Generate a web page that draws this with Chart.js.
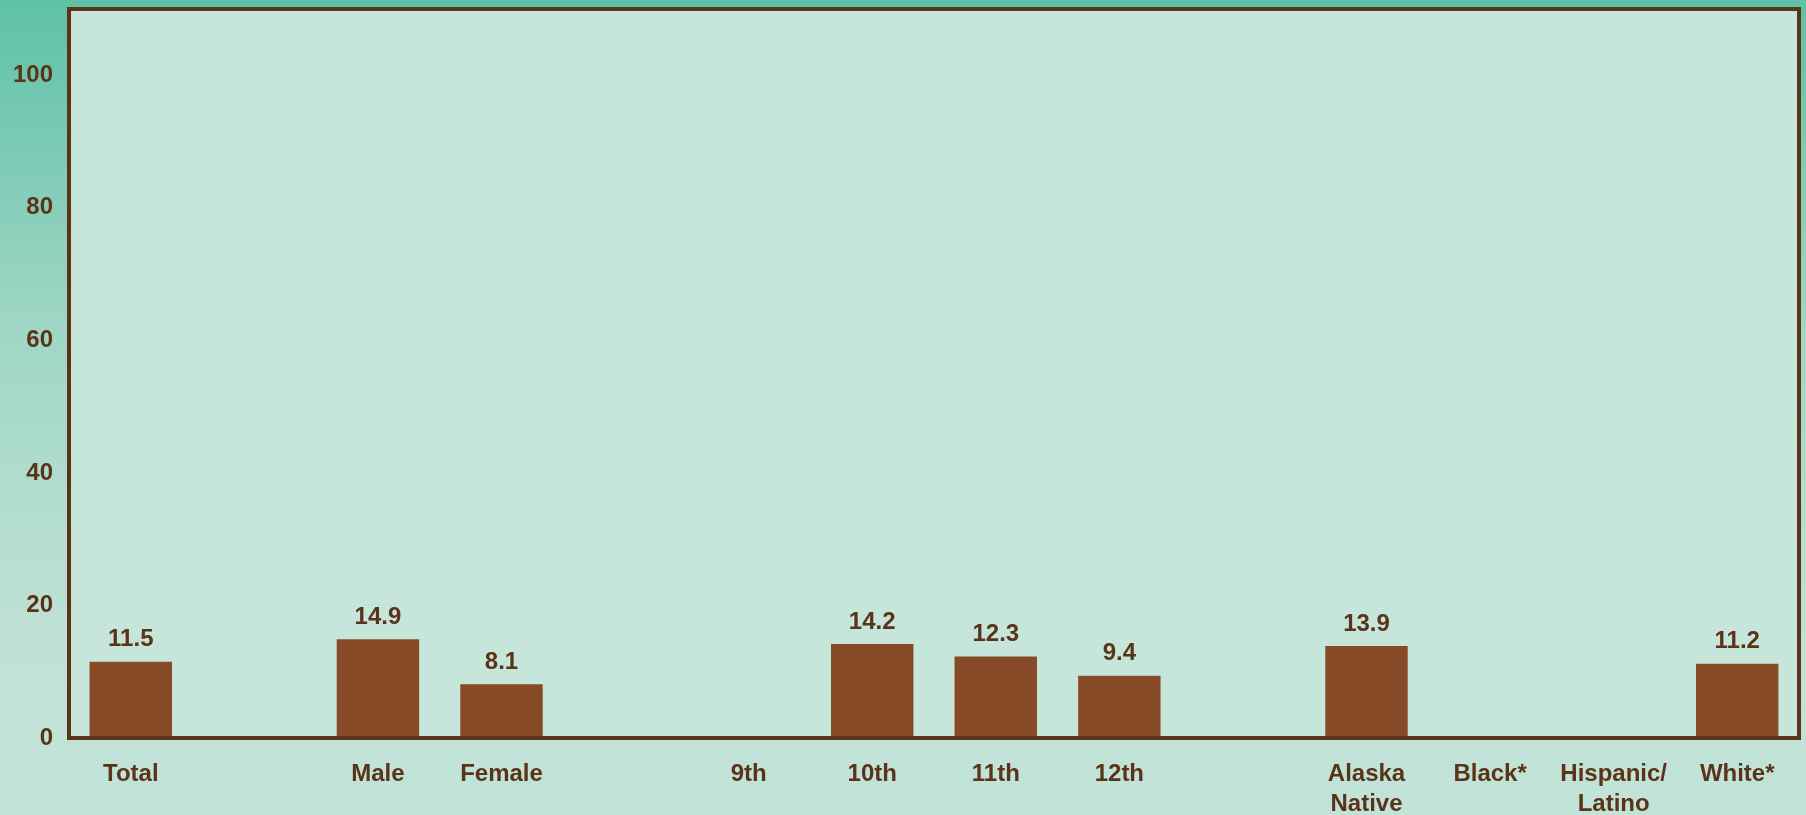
<!DOCTYPE html>
<html>
<head>
<meta charset="utf-8">
<script src="https://cdn.jsdelivr.net/npm/chart.js@4/dist/chart.umd.min.js"></script>
<style>
  html, body { margin: 0; padding: 0; }
  body {
    width: 1806px; height: 815px; overflow: hidden;
    background: linear-gradient(180deg, #5ec1a6 0%, #9fd6c5 40%, #c0e2d6 80%, #c2e3d8 100%);
  }
  #wrap { width: 1806px; height: 815px; }
</style>
</head>
<body>
<div id="wrap"><canvas id="bar-chart" width="1806" height="815"></canvas></div>
<script>
// categories (empty strings are the spacer slots between groups)
const categories = ['Total', '', 'Male', 'Female', '', '9th', '10th', '11th', '12th', '',
                    ['Alaska', 'Native'], 'Black*', ['Hispanic/', 'Latino'], 'White*'];
const percents = [11.5, null, 14.9, 8.1, null, null, 14.2, 12.3, 9.4, null, 13.9, null, null, 11.2];
const yTicks = [0, 20, 40, 60, 80, 100];

const brown = '#874a27';
const ink = '#5a3319';
const plotFill = '#c6e6dc';
const fontFamily = 'Arial, "Liberation Sans", sans-serif';

// paints the plot area and frames it
const framePlugin = {
  id: 'frame',
  beforeDraw(chart) {
    const a = chart.chartArea;
    const ctx = chart.ctx;
    ctx.save();
    ctx.fillStyle = plotFill;
    ctx.fillRect(a.left, a.top, a.right - a.left, a.bottom - a.top);
    ctx.restore();
  },
  afterDatasetsDraw(chart) {
    const a = chart.chartArea;
    const ctx = chart.ctx;
    ctx.save();
    ctx.strokeStyle = ink;
    ctx.lineWidth = 4;
    ctx.strokeRect(a.left, a.top, a.right - a.left, a.bottom - a.top);
    ctx.restore();
  }
};

// value labels above the bars
const valueLabels = {
  id: 'valueLabels',
  afterDatasetsDraw(chart) {
    const ctx = chart.ctx;
    const meta = chart.getDatasetMeta(0);
    ctx.save();
    ctx.fillStyle = ink;
    ctx.font = 'bold 24px ' + fontFamily;
    ctx.textAlign = 'center';
    ctx.textBaseline = 'bottom';
    meta.data.forEach((bar, i) => {
      const v = percents[i];
      if (v === null) return;
      ctx.fillText(v.toFixed(1), bar.x, bar.y - 10);
    });
    ctx.restore();
  }
};

const ctx = document.getElementById('bar-chart').getContext('2d');
new Chart(ctx, {
  type: 'bar',
  data: {
    labels: categories,
    datasets: [{
      label: 'Percent',
      data: percents,
      backgroundColor: brown,
      borderWidth: 0,
      barPercentage: 0.667,
      categoryPercentage: 1
    }]
  },
  options: {
    responsive: false,
    animation: false,
    layout: { padding: { top: 9, right: 7, left: 0, bottom: 0 } },
    scales: {
      x: {
        grid: { display: false, drawTicks: false },
        border: { display: false },
        ticks: {
          color: ink,
          font: { family: fontFamily, size: 24, weight: 'bold', lineHeight: 1.25 },
          padding: 21,
          maxRotation: 0,
          autoSkip: false
        },
        afterFit(scale) {
          scale.height = 77;
          scale.paddingLeft = 0;
          scale.paddingRight = 0;
        }
      },
      y: {
        min: 0,
        max: 110,
        grid: { display: false, drawTicks: false },
        border: { display: false },
        afterBuildTicks(scale) { scale.ticks = yTicks.map(v => ({ value: v })); },
        ticks: {
          color: ink,
          font: { family: fontFamily, size: 24, weight: 'bold' },
          padding: 16
        },
        afterFit(scale) {
          scale.width = 69;
          scale.paddingTop = 0;
          scale.paddingBottom = 0;
        }
      }
    },
    plugins: {
      legend: { display: false },
      tooltip: { enabled: false }
    }
  },
  plugins: [framePlugin, valueLabels]
});
</script>
</body>
</html>
